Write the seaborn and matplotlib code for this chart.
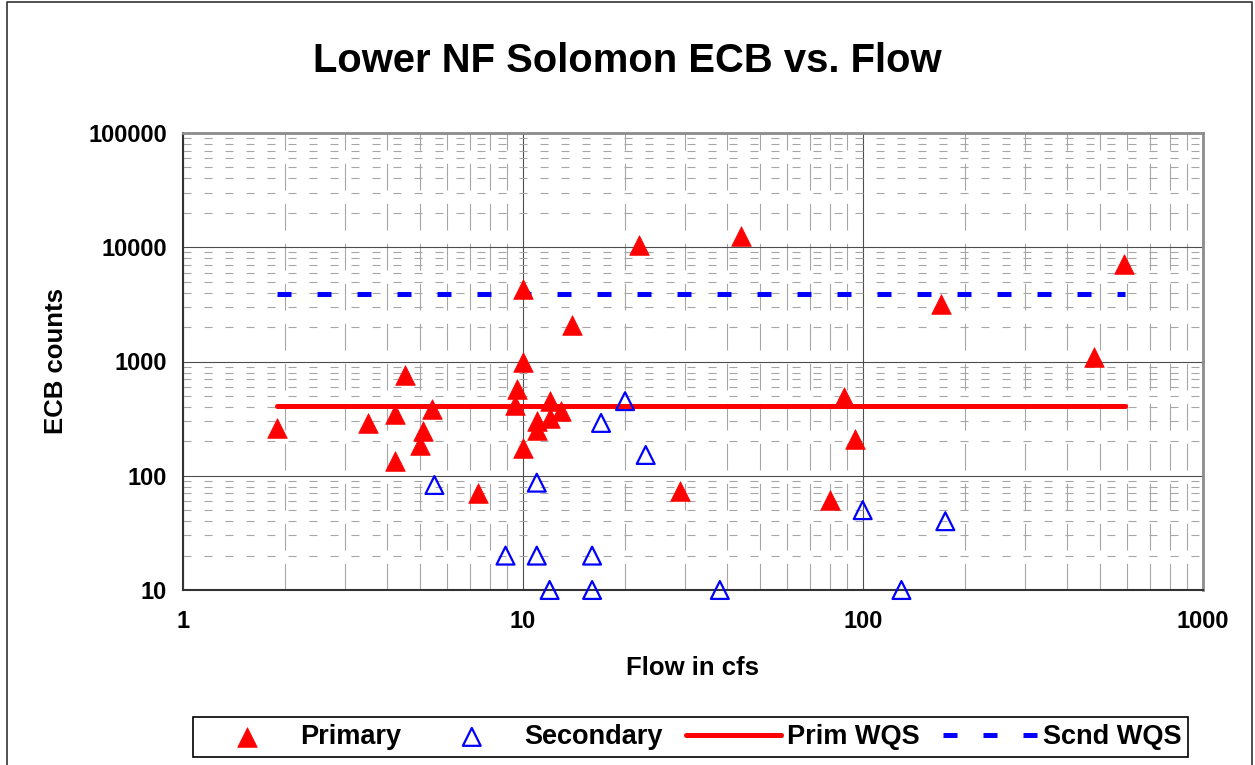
import numpy as np
import pandas as pd
import matplotlib
matplotlib.use("Agg")
from matplotlib import pyplot as plt
from matplotlib.lines import Line2D
from matplotlib.ticker import LogLocator, NullFormatter
import seaborn as sns

# %% data
primary_flow = [1.9, 3.5, 4.2, 4.2, 4.5, 5.0, 5.1, 5.4, 7.4, 9.5, 9.6, 10, 10, 10,
                11, 11, 12, 12, 13, 14, 22, 29, 44, 80, 88, 95, 170, 480, 585]
primary_ecb = [260, 290, 135, 350, 760, 186, 247, 383, 71, 420, 580, 4300, 1000, 175,
               300, 250, 450, 320, 370, 2100, 10400, 74, 12600, 61, 490, 210, 3200, 1100, 7200]

secondary_flow = [5.5, 8.9, 11, 11, 12, 16, 16, 17, 20, 23, 38, 100, 130, 175]
secondary_ecb = [83, 20, 87, 20, 10, 20, 10, 290, 450, 152, 10, 50, 10, 40]

wqs_flow = [1.9, 590]
prim_wqs = 406
scnd_wqs = 3900

x_ticks = [1, 10, 100, 1000]
y_ticks = [10, 100, 1000, 10000, 100000]

prim = pd.DataFrame({"flow": primary_flow, "ecb": primary_ecb})
scnd = pd.DataFrame({"flow": secondary_flow, "ecb": secondary_ecb})
wqs = pd.DataFrame({"flow": wqs_flow,
                    "prim": [prim_wqs] * len(wqs_flow),
                    "scnd": [scnd_wqs] * len(wqs_flow)})

# %% style
sns.set_style("white")
plt.rcParams["font.family"] = ["Liberation Sans", "DejaVu Sans"]
for k in ["text.color", "axes.labelcolor", "xtick.color", "ytick.color"]:
    plt.rcParams[k] = "black"

W, H = 1255, 765
fig = plt.figure(figsize=(W / 100, H / 100), dpi=100)
ax = fig.add_axes([182.7 / W, 1 - 590 / H, 1020 / W, 457 / H])
ax.set_xscale("log")
ax.set_yscale("log")

# %% marks
sns.scatterplot(data=prim, x="flow", y="ecb", marker="^", s=200, color="red",
                edgecolor="red", linewidth=0.5, label="Primary", ax=ax,
                clip_on=False, zorder=3)
sns.scatterplot(data=scnd, x="flow", y="ecb", marker="^", s=165, color="blue",
                facecolor="none", edgecolor="blue", linewidth=1.6, label="Secondary",
                ax=ax, clip_on=False, zorder=3)
sns.lineplot(data=wqs, x="flow", y="prim", color="red", linewidth=3.6,
             label="Prim WQS", ax=ax, zorder=2)
sns.lineplot(data=wqs, x="flow", y="scnd", color="blue", linewidth=3.6,
             linestyle=(0, (2.8, 5.2)), label="Scnd WQS", ax=ax, zorder=2)

# %% axes
ax.set_xlim(1, 1000)
ax.set_ylim(10, 100000)
ax.set_xticks(x_ticks)
ax.set_xticklabels([str(v) for v in x_ticks], fontsize=17, fontweight="bold")
ax.set_yticks(y_ticks)
ax.set_yticklabels([str(v) for v in y_ticks], fontsize=17, fontweight="bold")
for axis in (ax.xaxis, ax.yaxis):
    axis.set_minor_locator(LogLocator(base=10, subs=range(2, 10)))
    axis.set_minor_formatter(NullFormatter())
ax.tick_params(which="minor", length=0)
ax.tick_params(which="major", direction="out", length=4.3, width=1, color="#333333")
ax.tick_params(axis="x", pad=10)
ax.tick_params(axis="y", pad=7)

ax.grid(which="major", color="#4d4d4d", lw=0.8)
ax.grid(which="minor", axis="x", color="#a6a6a6", lw=0.8, ls=(0, (24, 12)))
ax.grid(which="minor", axis="y", color="#a6a6a6", lw=0.8, ls=(0, (7.2, 11.7)))
ax.set_axisbelow(True)

for s in ["left", "bottom"]:
    ax.spines[s].set_color("#333333")
    ax.spines[s].set_linewidth(1.5)
for s in ["top", "right"]:
    ax.spines[s].set_color("#8c8c8c")
    ax.spines[s].set_linewidth(2)

ax.set_xlabel("Flow in cfs", fontsize=18.5, fontweight="bold")
ax.xaxis.label.set_va("baseline")
ax.xaxis.set_label_coords(0.5, (590 - 675) / 457)
ax.set_ylabel("ECB counts", fontsize=18.5, fontweight="bold")
ax.yaxis.label.set_va("baseline")
ax.yaxis.set_label_coords((63.3 - 182.7) / 1020, 0.5)

fig.text(0.5, 1 - 71.7 / H, "Lower NF Solomon ECB vs. Flow", ha="center",
         va="baseline", fontsize=28.8, fontweight="bold")

# %% legend
handles, labels = ax.get_legend_handles_labels()
if ax.get_legend() is not None:
    ax.get_legend().remove()
leg = fig.legend(handles, labels, loc="center", ncol=4, mode="expand",
                 bbox_to_anchor=(193 / W, 5 / H, 995 / W, 46 / H),
                 frameon=True, fancybox=False, framealpha=1, edgecolor="black",
                 prop={"weight": "bold", "size": 19.5}, handlelength=3.5,
                 handletextpad=0.2, columnspacing=0.3, borderpad=0.25,
                 borderaxespad=0)
leg.get_frame().set_linewidth(1.2)

# chart area border
fig.add_artist(Line2D([7 / W, 7 / W, 1252 / W, 1252 / W],
                      [0, 1 - 1.5 / H, 1 - 1.5 / H, 0],
                      transform=fig.transFigure, color="#333333", lw=1.2))

fig.savefig("out.png", dpi=100)
